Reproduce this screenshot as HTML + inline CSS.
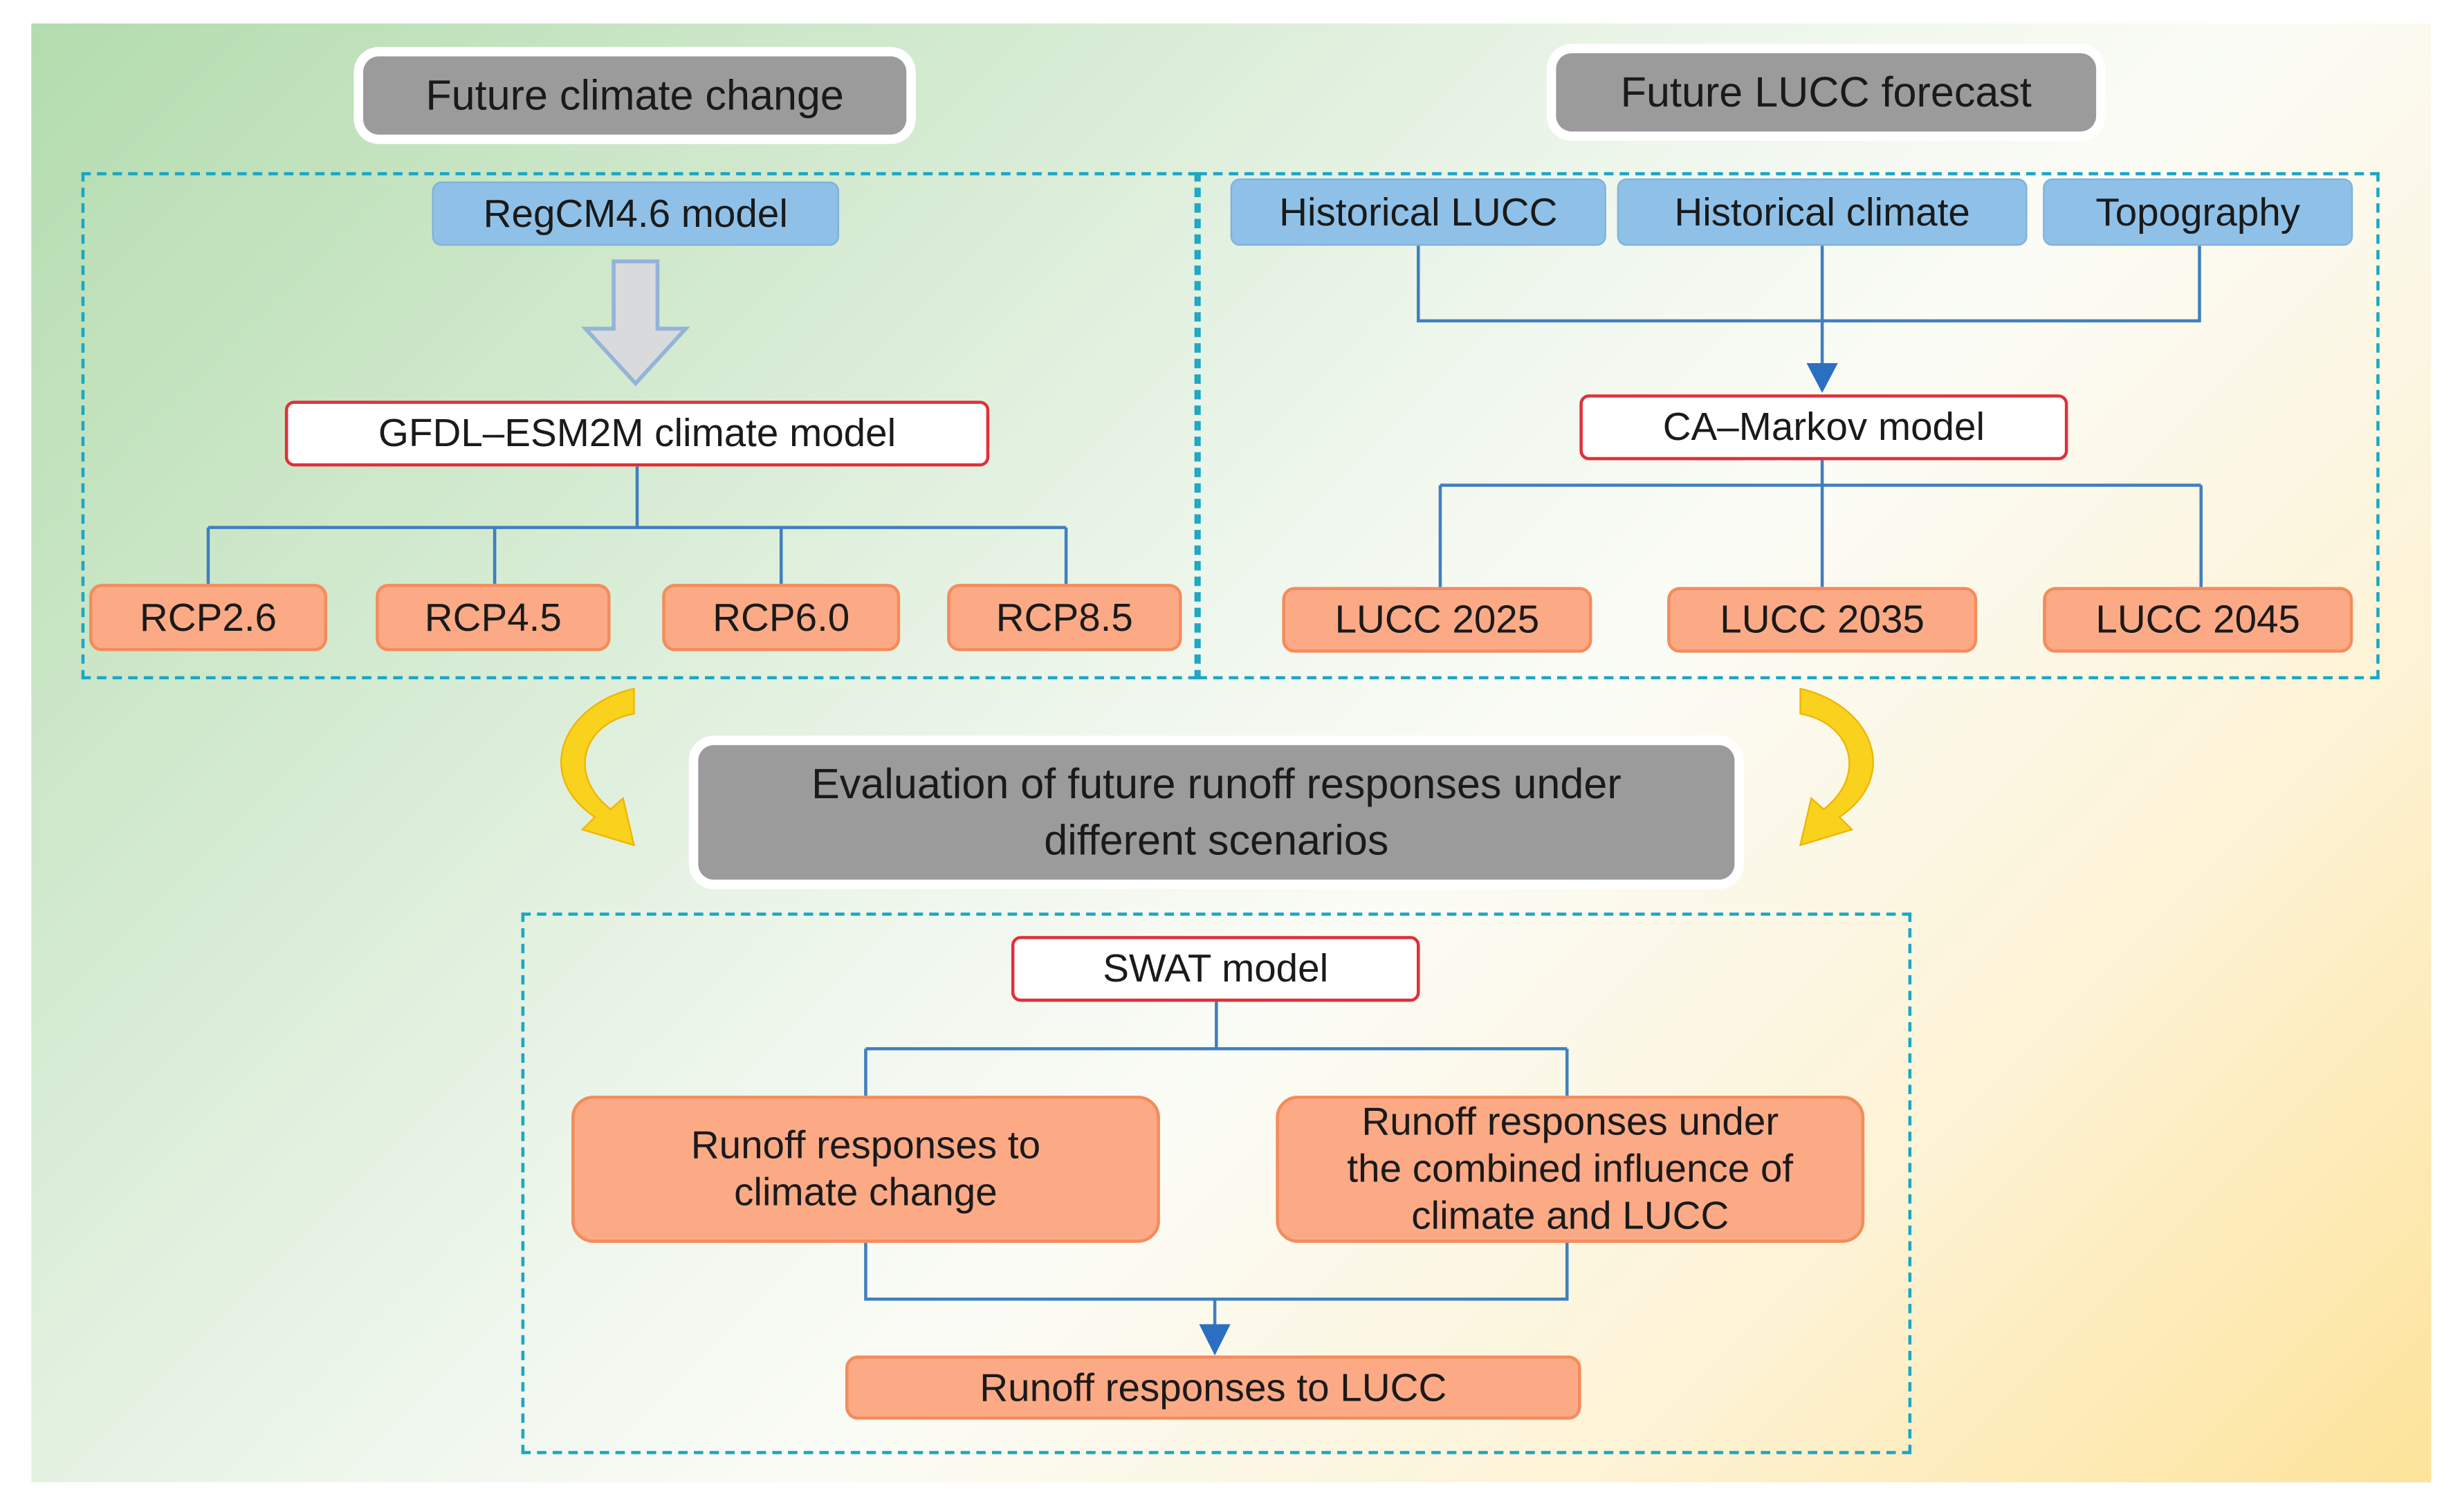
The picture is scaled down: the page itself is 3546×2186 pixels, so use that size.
<!DOCTYPE html>
<html><head><meta charset="utf-8"><style>
html,body{margin:0;padding:0;background:#fff;}
body{width:3546px;height:2186px;overflow:hidden;position:relative;}
#s{position:absolute;left:0;top:0;width:1567px;height:966px;transform:scale(2.263);transform-origin:0 0;font-family:"Liberation Sans",Arial,sans-serif;}
.bg{position:absolute;left:20px;top:15px;width:1533px;height:932px;
background:linear-gradient(135deg,#b3dcae 0%,#d3ead0 25%,#eef6ec 45%,#fbfcf6 58%,#fdf3d6 78%,#fde39a 100%);}
.b{position:absolute;box-sizing:border-box;display:flex;align-items:center;justify-content:center;text-align:center;font-size:25px;color:#1a1a1a;line-height:1.2;}
.g{background:#9b9b9b;border-radius:10px;box-shadow:0 0 0 6px #fff;font-size:27px;}
.bl{background:#8fc1e8;border-radius:6px;border:1px solid #7fb0dc;}
.w{background:#fff;border:2px solid #e0303a;border-radius:6px;}
.o{background:#fcaa86;border:2px solid #f48c5c;border-radius:8px;}
.d{position:absolute;box-sizing:border-box;border:2px dashed #1aa7c4;}
svg{position:absolute;left:0;top:0;}
</style></head><body><div id="s">
<div class="bg"></div>
<div class="d" style="left:52px;top:110px;width:713px;height:324px"></div>
<div class="d" style="left:765px;top:110px;width:755px;height:324px"></div>
<div class="d" style="left:333px;top:583px;width:888px;height:346px"></div>
<svg width="1567" height="966">
<g stroke="#3f7fbf" stroke-width="2" fill="none">
<path d="M407 298V337M133 337H681M133 337V373M316 337V373M499 337V373M681 337V373"/>
<path d="M906 157V205H1405V157M1164 157V236"/>
<path d="M1164 294V375M920 310H1406M920 310V375M1406 310V375"/>
<path d="M777 640V670M553 670H1001M553 670V700M1001 670V700"/>
<path d="M553 794V830H1001V794M776 830V850"/>
</g>
<path d="M1154 232H1174L1164 251Z" fill="#2c6fc0"/>
<path d="M766 846H786L776 866Z" fill="#2c6fc0"/>
<path d="M392 167H420V210H438L406 245L374 210H392Z" fill="#d9dadc" stroke="#93b4d8" stroke-width="2.5"/>
<g fill="#f8d21c" stroke="#f0b400" stroke-width="1">
<path d="M405 440C360 450 340 495 380 522L372 530L405 540L398 510L390 517C362 495 372 462 405 456Z"/>
<path d="M1150 440C1195 450 1215 495 1175 522L1183 530L1150 540L1157 510L1165 517C1193 495 1183 462 1150 456Z"/>
</g>
</svg>
<div class="b g" style="left:232px;top:36px;width:347px;height:50px">Future climate change</div>
<div class="b g" style="left:994px;top:34px;width:345px;height:50px">Future LUCC forecast</div>
<div class="b bl" style="left:276px;top:116px;width:260px;height:41px">RegCM4.6 model</div>
<div class="b w" style="left:182px;top:256px;width:450px;height:42px">GFDL–ESM2M climate model</div>
<div class="b o" style="left:57px;top:373px;width:152px;height:43px">RCP2.6</div>
<div class="b o" style="left:240px;top:373px;width:150px;height:43px">RCP4.5</div>
<div class="b o" style="left:423px;top:373px;width:152px;height:43px">RCP6.0</div>
<div class="b o" style="left:605px;top:373px;width:150px;height:43px">RCP8.5</div>
<div class="b bl" style="left:786px;top:114px;width:240px;height:43px">Historical LUCC</div>
<div class="b bl" style="left:1033px;top:114px;width:262px;height:43px">Historical climate</div>
<div class="b bl" style="left:1305px;top:114px;width:198px;height:43px">Topography</div>
<div class="b w" style="left:1009px;top:252px;width:312px;height:42px">CA–Markov model</div>
<div class="b o" style="left:819px;top:375px;width:198px;height:42px">LUCC 2025</div>
<div class="b o" style="left:1065px;top:375px;width:198px;height:42px">LUCC 2035</div>
<div class="b o" style="left:1305px;top:375px;width:198px;height:42px">LUCC 2045</div>
<div class="b g" style="left:446px;top:476px;width:662px;height:86px;line-height:1.35">Evaluation of future runoff responses under<br>different scenarios</div>
<div class="b w" style="left:646px;top:598px;width:261px;height:42px">SWAT model</div>
<div class="b o" style="left:365px;top:700px;width:376px;height:94px;border-radius:14px">Runoff responses to<br>climate change</div>
<div class="b o" style="left:815px;top:700px;width:376px;height:94px;border-radius:14px">Runoff responses under<br>the combined influence of<br>climate and LUCC</div>
<div class="b o" style="left:540px;top:866px;width:470px;height:41px">Runoff responses to LUCC</div>
</div></body></html>
